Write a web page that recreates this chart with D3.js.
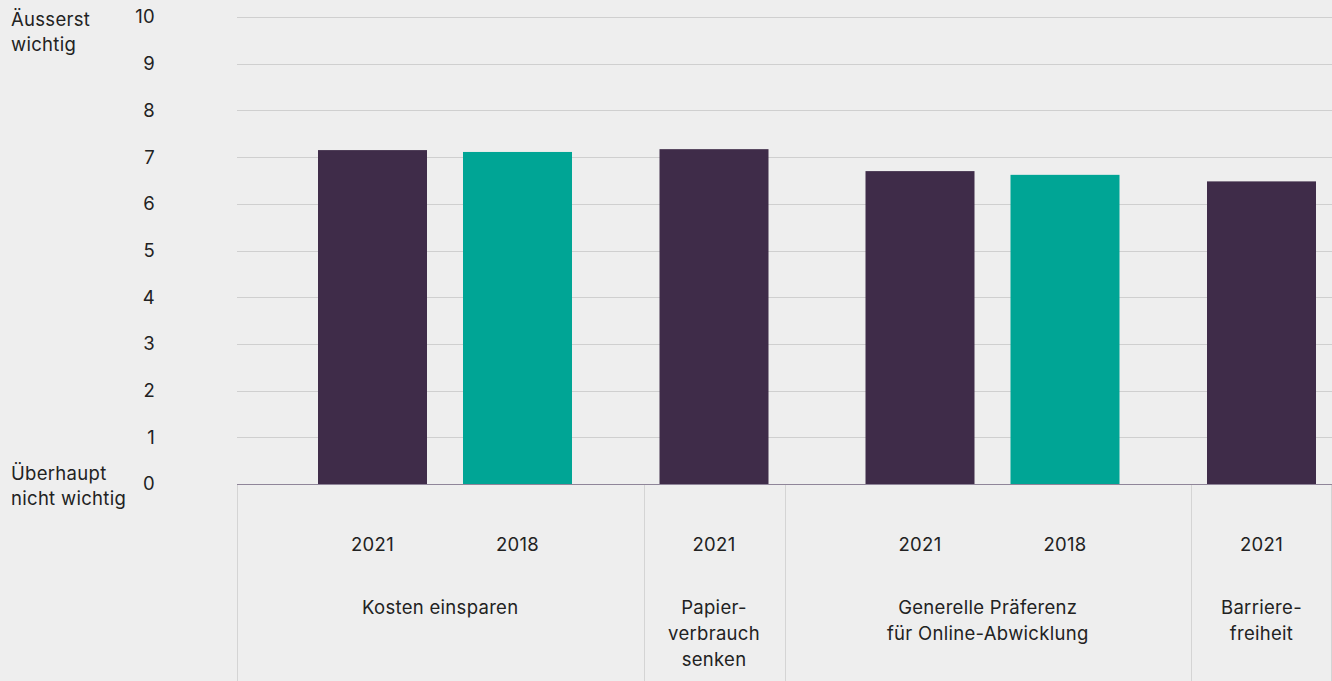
<!DOCTYPE html>
<html>
<head>
<meta charset="utf-8">
<script src="https://cdn.jsdelivr.net/npm/d3@7"></script>
<style>
  html, body { margin: 0; padding: 0; background: #eeeeee; }
  svg { display: block; }
  text { font-family: Inter, "Noto Sans", sans-serif; fill: #222; letter-spacing: 0.3px; }
</style>
</head>
<body>
<svg id="chart" width="1332" height="681"></svg>
<script>
// ---- data ----
const groupLabels = [
  ["Kosten einsparen"],
  ["Papier-", "verbrauch", "senken"],
  ["Generelle Präferenz", "für Online-Abwicklung"],
  ["Barriere-", "freiheit"]
];
const seriesYears = ["2021", "2018"];
const values2021 = [7.15, 7.17, 6.70, 6.48];
const values2018 = [7.11, null, 6.62, null];
const yTickValues = [0, 1, 2, 3, 4, 5, 6, 7, 8, 9, 10];
const yTopLabel = ["Äusserst", "wichtig"];
const yBottomLabel = ["Überhaupt", "nicht wichtig"];

// ---- layout ----
const W = 1332, H = 681;
const plotLeft = 237, plotRight = 1332, plotTop = 17, plotBottom = 484;
const barW = 109, barGap = 36;
const colors = { "2021": "#3f2c49", "2018": "#00a595" };
const fs = "18.5px";

const svg = d3.select("#chart");

const y = d3.scaleLinear().domain([0, 10]).range([plotBottom, plotTop]);

// build groups
const groups = groupLabels.map((lab, i) => {
  const bars = [];
  if (values2021[i] != null) bars.push({ year: "2021", value: values2021[i] });
  if (values2018[i] != null) bars.push({ year: "2018", value: values2018[i] });
  return { label: lab, bars };
});

// group positions
let cursor = plotLeft;
groups.forEach(g => {
  const n = g.bars.length;
  const padL = n === 2 ? 81 : 16;
  const padR = n === 2 ? 71.5 : 16;
  const inner = n * barW + (n - 1) * barGap;
  g.x0 = cursor;
  g.x1 = cursor + padL + inner + padR;
  g.scale = d3.scaleBand()
    .domain(g.bars.map(b => b.year))
    .range([cursor + padL, cursor + padL + inner])
    .paddingInner(n > 1 ? barGap / (barW + barGap) : 0)
    .paddingOuter(0);
  cursor = g.x1;
});

// gridlines
svg.append("g")
  .selectAll("line")
  .data(yTickValues.filter(d => d !== 0))
  .join("line")
  .attr("x1", plotLeft).attr("x2", plotRight)
  .attr("y1", d => Math.round(y(d)) + 0.5).attr("y2", d => Math.round(y(d)) + 0.5)
  .attr("stroke", "#cfcfcf").attr("stroke-width", 1);

// y axis labels
const yAxis = d3.axisLeft(y).tickValues(yTickValues).tickSize(0).tickPadding(82).tickFormat(d3.format("d"));
const yg = svg.append("g").attr("transform", `translate(${plotLeft},0)`).call(yAxis);
yg.select(".domain").remove();
yg.selectAll("text").style("font-size", fs).style("font-family", "Inter, 'Noto Sans', sans-serif").attr("fill", "#222");

// left descriptive labels
svg.append("text").attr("x", 11).attr("y", 26).style("font-size", fs)
  .selectAll("tspan").data(yTopLabel).join("tspan")
  .attr("x", 11).attr("dy", (d, i) => i === 0 ? 0 : 25).text(d => d);
svg.append("text").attr("x", 11).attr("y", 480).style("font-size", fs)
  .selectAll("tspan").data(yBottomLabel).join("tspan")
  .attr("x", 11).attr("dy", (d, i) => i === 0 ? 0 : 25).text(d => d);

// bars
groups.forEach(g => {
  svg.append("g").selectAll("rect")
    .data(g.bars)
    .join("rect")
    .attr("x", d => g.scale(d.year))
    .attr("width", g.scale.bandwidth())
    .attr("y", d => y(d.value))
    .attr("height", d => y(0) - y(d.value))
    .attr("fill", d => colors[d.year]);
});

// vertical separators
const seps = [plotLeft, ...groups.map(g => g.x1)];
svg.append("g").selectAll("line")
  .data(seps)
  .join("line")
  .attr("x1", d => Math.min(Math.round(d), W - 1) + 0.5).attr("x2", d => Math.min(Math.round(d), W - 1) + 0.5)
  .attr("y1", plotBottom).attr("y2", H)
  .attr("stroke", "#d4d4d4").attr("stroke-width", 1);

// baseline
svg.append("line")
  .attr("x1", plotLeft).attr("x2", plotRight)
  .attr("y1", y(0) + 0.5).attr("y2", y(0) + 0.5)
  .attr("stroke", "#8f8599").attr("stroke-width", 1);

// year labels
groups.forEach(g => {
  svg.append("g").selectAll("text")
    .data(g.bars)
    .join("text")
    .attr("x", d => g.scale(d.year) + g.scale.bandwidth() / 2)
    .attr("y", 551)
    .attr("text-anchor", "middle")
    .style("font-size", fs)
    .text(d => d.year);
});

// group labels
groups.forEach(g => {
  const cx = (g.x0 + g.x1) / 2;
  svg.append("text")
    .attr("text-anchor", "middle")
    .attr("y", 614)
    .style("font-size", fs)
    .selectAll("tspan").data(g.label).join("tspan")
    .attr("x", cx).attr("dy", (d, i) => i === 0 ? 0 : 26)
    .text(d => d);
});
</script>
</body>
</html>
